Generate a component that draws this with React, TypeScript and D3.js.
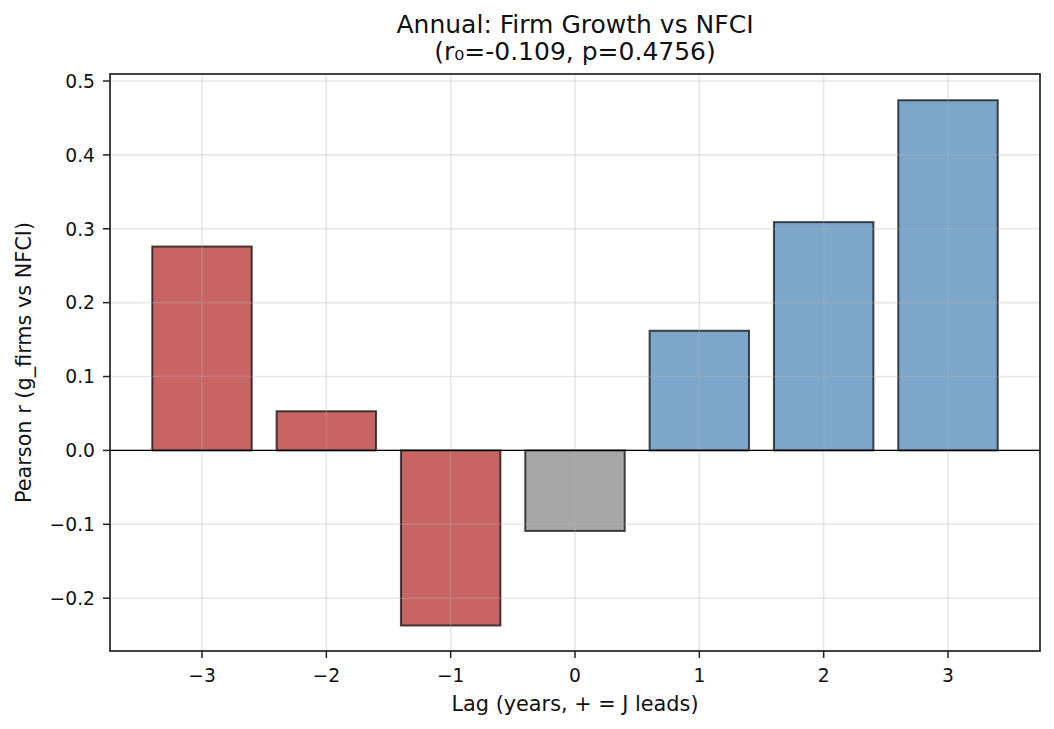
import React, { useEffect, useRef } from 'react';
import * as d3 from 'd3';

// lag correlations
const lags = [-3, -2, -1, 0, 1, 2, 3];
const corr = [0.276, 0.053, -0.237, -0.109, 0.162, 0.309, 0.474];
const yTicks = [-0.2, -0.1, 0.0, 0.1, 0.2, 0.3, 0.4, 0.5];
const xTicks = [-3, -2, -1, 0, 1, 2, 3];

const App = () => {
  const ref = useRef<SVGSVGElement>(null);

  useEffect(() => {
    if (ref.current) {
      drawChart();
    }
  }, []);

  const drawChart = () => {
    const width = 1054, height = 729;
    const left = 110, right = 1040, top = 74, bottom = 651;
    const font = '"DejaVu Sans", sans-serif';

    const svg = d3.select(ref.current);
    svg.selectAll('*').remove();
    svg.attr('width', width).attr('height', height);

    svg.append('rect').attr('width', width).attr('height', height).attr('fill', 'white');

    const x = d3.scaleLinear().domain([-3.74, 3.74]).range([left, right]);
    const y = d3.scaleLinear().domain([-0.2715, 0.5095]).range([bottom, top]);
    const minus = (s: string) => s.replace('-', '\u2212');

    const color = (lag: number) => (lag < 0 ? 'firebrick' : lag > 0 ? 'steelblue' : 'gray');

    const data = lags.map((lag, i) => ({ lag, value: corr[i] }));

    // bars
    svg.append('g')
      .selectAll('rect')
      .data(data)
      .enter()
      .append('rect')
      .attr('x', d => x(d.lag - 0.4))
      .attr('width', d => x(d.lag + 0.4) - x(d.lag - 0.4))
      .attr('y', d => y(Math.max(0, d.value)))
      .attr('height', d => Math.abs(y(d.value) - y(0)))
      .attr('fill', d => color(d.lag))
      .attr('fill-opacity', 0.7)
      .attr('stroke', 'black')
      .attr('stroke-opacity', 0.7)
      .attr('stroke-width', 2);

    // grid (drawn over bars like matplotlib)
    const grid = svg.append('g').attr('stroke', '#b0b0b0').attr('stroke-opacity', 0.3).attr('stroke-width', 1.6);
    yTicks.forEach(t => {
      grid.append('line').attr('x1', left).attr('x2', right).attr('y1', y(t)).attr('y2', y(t));
    });
    xTicks.forEach(t => {
      grid.append('line').attr('x1', x(t)).attr('x2', x(t)).attr('y1', top).attr('y2', bottom);
    });

    // zero line
    svg.append('line')
      .attr('x1', left).attr('x2', right)
      .attr('y1', y(0)).attr('y2', y(0))
      .attr('stroke', 'black').attr('stroke-width', 1.4);

    // frame
    svg.append('rect')
      .attr('x', left).attr('y', top)
      .attr('width', right - left).attr('height', bottom - top)
      .attr('fill', 'none').attr('stroke', '#222').attr('stroke-width', 1.7);

    // y ticks
    const yAxis = svg.append('g');
    yTicks.forEach(t => {
      yAxis.append('line').attr('x1', left - 7).attr('x2', left).attr('y1', y(t)).attr('y2', y(t))
        .attr('stroke', '#222').attr('stroke-width', 1.5);
      yAxis.append('text')
        .attr('x', left - 15).attr('y', y(t)).attr('dy', '0.36em')
        .attr('text-anchor', 'end')
        .style('font-family', font).style('font-size', '18.7px').attr('fill', '#111')
        .text(minus(d3.format('.1f')(t)));
    });

    // x ticks
    const xAxis = svg.append('g');
    xTicks.forEach(t => {
      xAxis.append('line').attr('x1', x(t)).attr('x2', x(t)).attr('y1', bottom).attr('y2', bottom + 7)
        .attr('stroke', '#222').attr('stroke-width', 1.5);
      xAxis.append('text')
        .attr('x', x(t)).attr('y', 682)
        .attr('text-anchor', 'middle')
        .style('font-family', font).style('font-size', '18.7px').attr('fill', '#111')
        .text(minus(String(t)));
    });

    // labels
    svg.append('text')
      .attr('x', (left + right) / 2).attr('y', 711)
      .attr('text-anchor', 'middle')
      .style('font-family', font).style('font-size', '20.8px').attr('fill', '#111')
      .text('Lag (years, + = J leads)');

    svg.append('text')
      .attr('transform', `translate(31, ${(top + bottom) / 2}) rotate(-90)`)
      .attr('text-anchor', 'middle')
      .style('font-family', font).style('font-size', '20.8px').attr('fill', '#111')
      .text('Pearson r (g_firms vs NFCI)');

    // title
    const title = svg.append('text')
      .attr('text-anchor', 'middle')
      .style('font-family', font).style('font-size', '25px').attr('fill', '#111');
    title.append('tspan').attr('x', (left + right) / 2).attr('y', 33).text('Annual: Firm Growth vs NFCI');
    title.append('tspan').attr('x', (left + right) / 2).attr('y', 60).text('(r\u2080=-0.109, p=0.4756)');
  };

  return <svg ref={ref} style={{ position: 'absolute', left: 0, top: 0 }}></svg>;
};

export default App;
